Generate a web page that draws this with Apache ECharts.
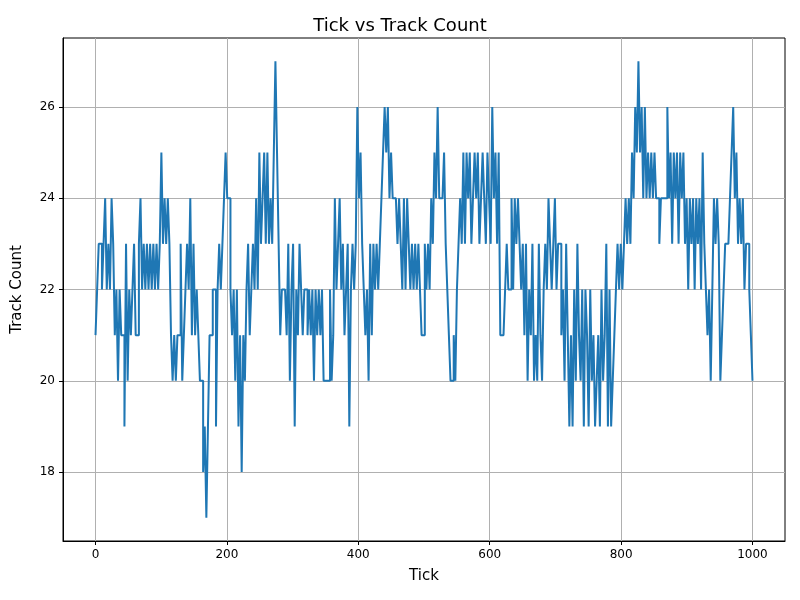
<!DOCTYPE html>
<html>
<head>
<meta charset="utf-8">
<script src="https://cdn.jsdelivr.net/npm/echarts@6/dist/echarts.min.js"></script>
<style>html,body{margin:0;padding:0;background:#fff}#chart{width:800px;height:600px}</style>
</head>
<body>
<div id="chart"></div>
<script>
// track counts, in order from tick 0 to tick 1000
var counts = [21,22,23,23,22,23,24,22,23,22,24,23,21,22,20,22,21,21,19,23,20,22,21,22,23,21,21,23,24,22,23,22,23,22,23,22,23,22,23,22,23,25,23,24,23,24,23,21,20,21,20,21,21,23,20,21,22,23,22,24,21,23,21,22,21,20,20,18,19,17,19,21,21,22,22,19,22,23,22,23,24,25,24,24,22,21,22,20,22,19,21,18,21,20,22,23,21,22,23,22,24,22,25,23,24,25,23,25,23,24,23,25,27,25,23,21,22,22,22,21,23,20,22,23,19,22,21,23,22,21,22,22,21,22,21,22,20,22,21,22,21,22,20,20,20,20,22,20,21,24,22,23,24,22,23,21,22,23,19,22,23,22,23,26,24,25,23,22,21,22,20,23,21,23,22,23,22,23,24,25,26,25,26,24,25,24,24,24,23,24,23,22,24,22,24,23,22,23,22,23,22,23,22,21,21,23,22,23,22,24,23,25,24,26,24,24,24,25,23,22,21,20,20,21,20,22,23,24,23,25,23,25,24,25,23,24,25,24,25,23,24,25,24,23,25,24,23,26,24,25,23,25,21,21,21,22,23,22,22,24,22,24,23,24,23,22,23,21,23,20,22,21,23,20,21,20,23,21,20,22,23,22,24,23,22,23,24,22,23,23,21,22,20,23,21,19,21,19,22,20,23,21,20,22,19,22,21,19,22,20,21,19,20,21,19,22,20,21,23,19,22,19,20,21,22,23,22,23,22,23,24,23,24,23,25,24,26,25,27,25,26,24,26,24,25,24,25,24,25,24,24,23,24,24,24,24,26,24,25,23,25,24,25,23,25,24,25,23,24,22,24,23,24,22,24,23,24,22,25,23,22,21,22,20,22,24,23,24,23,20,21,22,23,23,23,24,25,26,24,25,23,24,23,24,22,23,23,22,21,20];
var firstTick = 0;
var lastTick = 1000;
var xTicks = [0, 200, 400, 600, 800, 1000];
var yTicks = [18, 20, 22, 24, 26];

var chart = echarts.init(document.getElementById('chart'));
var step = (lastTick - firstTick) / (counts.length - 1);
var pts = counts.map(function (c, i) { return [firstTick + i * step, c]; });
var font = 'DejaVu Sans';

chart.setOption({
    animation: false,
    title: {
        text: 'Tick vs Track Count',
        left: 'center',
        top: 12,
        textStyle: {fontFamily: font, fontSize: 18, fontWeight: 'normal', color: '#000'}
    },
    grid: {left: 63, right: 15, top: 38, bottom: 59, show: true, borderColor: '#000', borderWidth: 1},
    xAxis: {
        type: 'value',
        min: -49.5,
        max: 1049.5,
        name: 'Tick',
        nameLocation: 'middle',
        nameGap: 28,
        nameTextStyle: {fontFamily: font, fontSize: 15, color: '#000'},
        axisLine: {show: true, onZero: false, lineStyle: {color: '#000'}},
        axisTick: {show: true, customValues: xTicks, length: 4, lineStyle: {color: '#000'}},
        axisLabel: {customValues: xTicks, fontFamily: font, fontSize: 12, color: '#000',
            formatter: function (v) { return String(v); }},
        splitLine: {show: true, lineStyle: {color: '#b0b0b0', width: 1}}
    },
    yAxis: {
        type: 'value',
        min: 16.49,
        max: 27.51,
        name: 'Track Count',
        nameLocation: 'middle',
        nameGap: 38,
        nameTextStyle: {fontFamily: font, fontSize: 15, color: '#000'},
        axisLine: {show: true, onZero: false, lineStyle: {color: '#000'}},
        axisTick: {show: true, customValues: yTicks, length: 4, lineStyle: {color: '#000'}},
        axisLabel: {customValues: yTicks, fontFamily: font, fontSize: 12, color: '#000'},
        splitLine: {show: true, lineStyle: {color: '#b0b0b0', width: 1}}
    },
    series: [{
        type: 'line',
        step: 'end',
        data: pts,
        showSymbol: false,
        lineStyle: {color: '#1f77b4', width: 2}
    }]
});
</script>
</body>
</html>
